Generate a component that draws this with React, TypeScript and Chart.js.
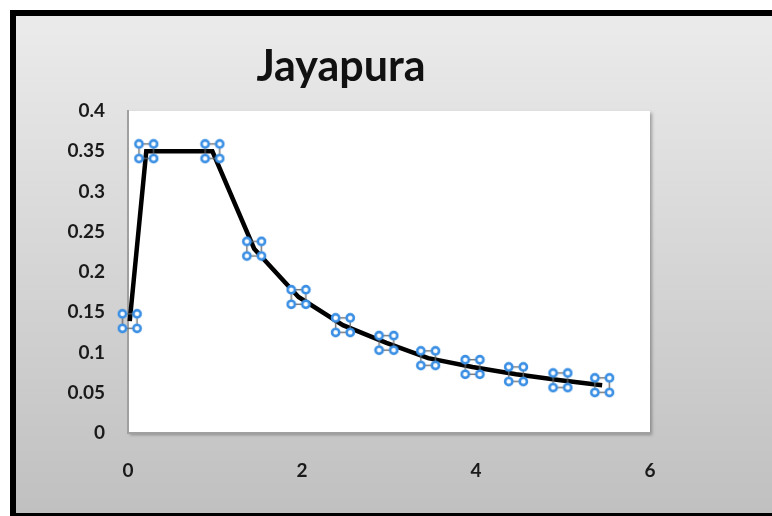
import React, { useEffect, useRef } from "react";
import { Chart, registerables } from "chart.js";

Chart.register(...registerables);

const chartTitle = "Jayapura";
const periods = [0.02, 0.21, 0.97, 1.45, 1.96, 2.47, 2.97, 3.45, 3.96, 4.46, 4.97, 5.45];
const accel = [0.139, 0.35, 0.35, 0.229, 0.169, 0.134, 0.112, 0.093, 0.082, 0.073, 0.0655, 0.0594];
const xTicks = [0, 2, 4, 6];
const yTicks = [0, 0.05, 0.1, 0.15, 0.2, 0.25, 0.3, 0.35, 0.4];

const W = 772;
const H = 516;
const FONT = "Lato, 'Noto Sans', sans-serif";

function makeHandle(): HTMLCanvasElement {
  const c = document.createElement("canvas");
  c.width = 26;
  c.height = 26;
  const g = c.getContext("2d")!;
  const cx = 13, cy = 13, d = 7.3;
  g.strokeStyle = "rgba(100,100,100,0.85)";
  g.lineWidth = 1.5;
  g.strokeRect(cx - d, cy - d, 2 * d, 2 * d);
  const pts = [[-d, -d], [d, -d], [-d, d], [d, d]];
  for (const [dx, dy] of pts) {
    g.beginPath();
    g.arc(cx + dx, cy + dy, 3.6, 0, Math.PI * 2);
    g.fillStyle = "#ffffff";
    g.fill();
    g.lineWidth = 2.6;
    g.strokeStyle = "#3a8fe4";
    g.stroke();
  }
  return c;
}

const bgPlugin = {
  id: "excelBg",
  beforeDraw(chart: any) {
    const ctx = chart.ctx as CanvasRenderingContext2D;
    ctx.save();
    ctx.fillStyle = "#ffffff";
    ctx.fillRect(0, 0, W, H);
    ctx.fillStyle = "#000000";
    ctx.fillRect(10, 10, W - 10, H - 10);
    const grad = ctx.createLinearGradient(0, 16, 0, 513);
    grad.addColorStop(0, "#ebebeb");
    grad.addColorStop(1, "#c0c0c0");
    ctx.fillStyle = grad;
    ctx.fillRect(16, 16, W - 16, 513 - 16);
    const a = chart.chartArea;
    ctx.shadowColor = "rgba(0,0,0,0.3)";
    ctx.shadowBlur = 3;
    ctx.shadowOffsetX = 2;
    ctx.shadowOffsetY = 2;
    ctx.fillStyle = "#ffffff";
    ctx.fillRect(a.left, a.top, a.right - a.left, a.bottom - a.top);
    ctx.restore();
  },
  afterDraw(chart: any) {
    const ctx = chart.ctx as CanvasRenderingContext2D;
    ctx.save();
    ctx.font = `bold 43px ${FONT}`;
    ctx.fillStyle = "#111111";
    ctx.textAlign = "center";
    ctx.textBaseline = "alphabetic";
    ctx.fillText(chartTitle, 341, 81);
    ctx.restore();
  },
};

export default function App() {
  const ref = useRef<HTMLCanvasElement | null>(null);
  useEffect(() => {
    document.body.style.margin = "0";
    const handle = makeHandle();
    const chart = new Chart(ref.current!, {
      type: "line",
      data: {
        datasets: [
          {
            data: periods.map((x, i) => ({ x, y: accel[i] })),
            borderColor: "#000000",
            borderWidth: 4.5,
            tension: 0,
            clip: false as any,
            pointStyle: handle as any,
            pointRadius: 10,
            pointHoverRadius: 10,
            fill: false,
          },
        ],
      },
      options: {
        responsive: false,
        animation: false,
        events: [],
        layout: { padding: { left: 0, top: 111, right: W - 650, bottom: 0 } },
        plugins: { legend: { display: false }, tooltip: { enabled: false }, title: { display: false } },
        scales: {
          x: {
            type: "linear",
            min: 0,
            max: 6,
            afterBuildTicks: (s: any) => {
              s.ticks = xTicks.map((v) => ({ value: v }));
            },
            afterFit: (s: any) => {
              s.height = H - 433;
            },
            grid: { display: false, drawTicks: false },
            border: { display: true, color: "#a0a0a0", width: 2 },
            ticks: {
              padding: 26,
              color: "#1a1a1a",
              font: { family: FONT, size: 19, weight: "bold" },
              maxRotation: 0,
            },
          },
          y: {
            type: "linear",
            min: 0,
            max: 0.4,
            afterBuildTicks: (s: any) => {
              s.ticks = yTicks.map((v) => ({ value: v }));
            },
            afterFit: (s: any) => {
              s.width = 128;
            },
            grid: { display: false, drawTicks: false },
            border: { display: true, color: "#a0a0a0", width: 2 },
            ticks: {
              padding: 23,
              color: "#1a1a1a",
              font: { family: FONT, size: 19, weight: "bold" },
              callback: (v: any) => String(Math.round(Number(v) * 100) / 100),
            },
          },
        },
      },
      plugins: [bgPlugin],
    });
    return () => chart.destroy();
  }, []);
  return (
    <div style={{ width: W, height: H }}>
      <canvas ref={ref} width={W} height={H} style={{ display: "block" }} />
    </div>
  );
}
